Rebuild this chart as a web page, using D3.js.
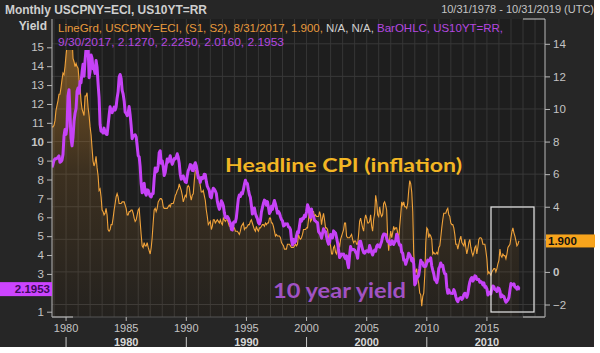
<!DOCTYPE html>
<html>
<head>
<meta charset="utf-8">
<script src="https://cdn.jsdelivr.net/npm/d3@7"></script>
<style>
  body { margin: 0; background: #fff; }
  svg { display: block; font-family: "Liberation Sans", Arial, sans-serif; }
</style>
</head>
<body>
<div id="chart"></div>
<script>
// Monthly values, first month is Oct 1978.
// Headline CPI y/y (right axis), Oct 1978 .. Aug 2017
let cpi = [
  8.9, 8.9, 9.0,
  9.3, 9.9, 10.2, 10.5, 10.9, 10.9, 11.3, 11.8, 12.2, 12.1, 12.6, 13.3,
  13.9, 14.2, 14.8, 14.7, 14.4, 14.4, 13.1, 12.9, 12.6, 12.8, 12.6, 12.5,
  11.8, 11.4, 10.5, 10.0, 9.8, 9.6, 10.8, 10.8, 11.0, 10.1, 9.6, 8.9,
  8.4, 7.6, 6.8, 6.5, 6.7, 7.1, 6.4, 5.9, 5.0, 5.1, 4.6, 3.8,
  3.7, 3.5, 3.6, 3.9, 3.5, 2.6, 2.5, 2.6, 2.9, 2.9, 3.3, 3.8,
  4.2, 4.6, 4.8, 4.6, 4.2, 4.2, 4.2, 4.3, 4.3, 4.3, 4.1, 3.9,
  3.5, 3.5, 3.7, 3.7, 3.8, 3.8, 3.6, 3.3, 3.1, 3.2, 3.5, 3.8,
  3.9, 3.1, 2.3, 1.6, 1.5, 1.8, 1.6, 1.6, 1.8, 1.5, 1.3, 1.1,
  1.5, 2.1, 3.0, 3.8, 3.9, 3.7, 3.9, 4.3, 4.4, 4.5, 4.5, 4.4,
  4.0, 3.9, 3.9, 3.9, 3.9, 4.0, 4.1, 4.0, 4.2, 4.2, 4.2, 4.4,
  4.7, 4.8, 5.0, 5.1, 5.4, 5.2, 5.0, 4.7, 4.3, 4.5, 4.7, 4.6,
  5.2, 5.3, 5.2, 4.7, 4.4, 4.7, 4.8, 5.6, 6.2, 6.3, 6.3, 6.1,
  5.7, 5.3, 4.9, 4.9, 5.0, 4.7, 4.4, 3.8, 3.4, 2.9, 3.0, 3.1,
  2.6, 2.8, 3.2, 3.2, 3.0, 3.1, 3.2, 3.1, 3.0, 3.2, 3.0, 2.9,
  3.3, 3.2, 3.1, 3.2, 3.2, 3.0, 2.8, 2.8, 2.7, 2.8, 2.7, 2.7,
  2.5, 2.5, 2.5, 2.4, 2.3, 2.5, 2.8, 2.9, 3.0, 2.6, 2.7, 2.7,
  2.8, 2.9, 2.9, 3.1, 3.2, 3.0, 2.8, 2.6, 2.5, 2.8, 2.6, 2.5,
  2.7, 2.7, 2.8, 2.9, 2.9, 2.8, 3.0, 2.9, 3.0, 3.0, 3.3, 3.3,
  3.0, 3.0, 2.8, 2.5, 2.2, 2.3, 2.2, 2.2, 2.2, 2.1, 1.8, 1.7,
  1.6, 1.4, 1.4, 1.4, 1.7, 1.7, 1.7, 1.6, 1.5, 1.5, 1.5, 1.6,
  1.7, 1.6, 1.7, 2.3, 2.1, 2.0, 2.1, 2.3, 2.6, 2.6, 2.6, 2.7,
  2.7, 3.2, 3.8, 3.1, 3.2, 3.7, 3.7, 3.4, 3.5, 3.4, 3.4, 3.4,
  3.7, 3.5, 2.9, 3.3, 3.6, 3.2, 2.7, 2.7, 2.6, 2.1, 1.9, 1.6,
  1.1, 1.1, 1.5, 1.6, 1.2, 1.1, 1.5, 1.8, 1.5, 2.0, 2.2, 2.4,
  2.6, 3.0, 3.0, 2.2, 2.1, 2.1, 2.1, 2.2, 2.3, 2.0, 1.8, 1.9,
  1.9, 1.7, 1.7, 2.3, 3.1, 3.3, 3.0, 2.7, 2.5, 3.2, 3.5, 3.3,
  3.0, 3.0, 3.1, 3.5, 2.8, 2.5, 3.2, 3.6, 4.7, 4.3, 3.5, 3.4,
  4.0, 3.6, 3.4, 3.5, 4.2, 4.3, 4.1, 3.8, 2.1, 1.3, 2.0, 2.5,
  2.1, 2.4, 2.8, 2.6, 2.7, 2.7, 2.4, 2.0, 2.8, 3.5, 4.3, 4.1,
  4.3, 4.0, 4.0, 3.9, 4.2, 5.0, 5.6, 5.4, 4.9, 3.7, 1.1, 0.1,
  0.0, 0.2, -0.4, -0.7, -1.3, -1.4, -2.1, -1.5, -1.3, -0.2, 1.8, 2.7,
  2.6, 2.1, 2.3, 2.2, 2.0, 1.1, 1.2, 1.1, 1.1, 1.2, 1.1, 1.5,
  1.6, 2.1, 2.7, 3.2, 3.6, 3.6, 3.6, 3.8, 3.9, 3.5, 3.4, 3.0,
  2.9, 2.9, 2.7, 2.3, 1.7, 1.7, 1.4, 1.7, 2.0, 2.2, 1.8, 1.7,
  1.6, 2.0, 1.5, 1.1, 1.4, 1.8, 2.0, 1.5, 1.2, 1.0, 1.2, 1.5,
  1.6, 1.1, 1.5, 2.0, 2.1, 2.1, 2.0, 1.7, 1.7, 1.7, 1.3, 0.8,
  -0.1, 0.0, -0.1, -0.2, 0.0, 0.1, 0.2, 0.2, 0.0, 0.2, 0.5, 0.7,
  1.4, 1.0, 0.9, 1.1, 1.0, 1.0, 0.8, 1.1, 1.5, 1.6, 1.7, 2.1,
  2.5, 2.7, 2.4, 2.2, 1.9, 1.6, 1.7, 1.9
];

// US 10 year yield (left axis), Oct 1978 .. Sep 2017
let yields = [
  8.64, 8.81, 9.01,
  9.10, 9.10, 9.12, 9.18, 9.25, 8.91, 8.95, 9.03, 9.33, 10.30, 10.65, 10.39,
  10.80, 12.41, 12.75, 11.47, 10.18, 9.78, 10.25, 11.10, 11.51, 11.75, 12.68, 12.84,
  12.57, 13.19, 13.12, 13.68, 14.10, 13.47, 14.28, 14.94, 15.32, 15.15, 13.39, 13.72,
  14.59, 14.43, 13.86, 13.87, 13.62, 14.30, 13.95, 13.06, 12.34, 10.91, 10.55, 10.54,
  10.46, 10.72, 10.51, 10.40, 10.38, 10.85, 11.38, 11.85, 11.65, 11.54, 11.69, 11.83,
  11.67, 11.84, 12.32, 12.63, 13.41, 13.56, 13.36, 12.72, 12.52, 12.16, 11.57, 11.50,
  11.38, 11.51, 11.86, 11.43, 10.85, 10.16, 10.31, 10.33, 10.37, 10.24, 9.78, 9.26,
  9.19, 8.70, 7.78, 7.30, 7.71, 7.80, 7.30, 7.17, 7.45, 7.43, 7.25, 7.11,
  7.08, 7.25, 7.25, 8.02, 8.61, 8.40, 8.45, 8.76, 9.42, 9.52, 8.86, 8.99,
  8.67, 8.21, 8.37, 8.72, 9.09, 8.92, 9.06, 9.26, 8.98, 8.80, 8.96, 9.11,
  9.09, 9.17, 9.36, 9.18, 8.86, 8.28, 8.02, 8.11, 8.19, 8.01, 7.87, 7.84,
  8.21, 8.47, 8.59, 8.79, 8.76, 8.48, 8.47, 8.75, 8.89, 8.72, 8.39, 8.08,
  8.09, 7.85, 8.11, 8.04, 8.07, 8.28, 8.27, 7.90, 7.65, 7.53, 7.42, 7.09,
  7.03, 7.34, 7.54, 7.48, 7.39, 7.26, 6.84, 6.59, 6.42, 6.59, 6.87, 6.77,
  6.60, 6.26, 5.98, 5.97, 6.04, 5.96, 5.81, 5.68, 5.36, 5.33, 5.72, 5.77,
  5.75, 5.97, 6.48, 6.97, 7.18, 7.10, 7.30, 7.24, 7.46, 7.74, 7.96, 7.81,
  7.78, 7.47, 7.20, 7.06, 6.63, 6.17, 6.28, 6.49, 6.20, 6.04, 5.93, 5.71,
  5.65, 5.81, 6.27, 6.51, 6.74, 6.91, 6.87, 6.64, 6.83, 6.53, 6.20, 6.30,
  6.58, 6.42, 6.69, 6.89, 6.71, 6.49, 6.22, 6.30, 6.21, 6.03, 5.88, 5.81,
  5.54, 5.57, 5.65, 5.64, 5.65, 5.50, 5.46, 5.34, 4.81, 4.53, 4.83, 4.65,
  4.72, 5.00, 5.23, 5.18, 5.54, 5.90, 5.79, 5.94, 5.92, 6.11, 6.03, 6.28,
  6.66, 6.52, 6.26, 5.99, 6.44, 6.10, 6.05, 5.83, 5.80, 5.74, 5.72, 5.24,
  5.16, 5.10, 4.89, 5.14, 5.39, 5.28, 5.24, 4.97, 4.73, 4.57, 4.65, 5.09,
  5.04, 4.91, 5.28, 5.21, 5.16, 4.93, 4.65, 4.26, 3.87, 3.94, 4.05, 4.03,
  4.05, 3.90, 3.81, 3.96, 3.57, 3.33, 3.98, 4.45, 4.27, 4.29, 4.30, 4.27,
  4.15, 4.08, 3.83, 4.35, 4.72, 4.73, 4.50, 4.28, 4.13, 4.10, 4.19, 4.23,
  4.22, 4.17, 4.50, 4.34, 4.14, 4.00, 4.18, 4.26, 4.20, 4.46, 4.54, 4.47,
  4.42, 4.57, 4.72, 4.99, 5.11, 5.11, 5.09, 4.88, 4.72, 4.73, 4.60, 4.56,
  4.76, 4.72, 4.56, 4.69, 4.75, 5.10, 5.00, 4.67, 4.52, 4.53, 4.15, 4.10,
  3.74, 3.74, 3.51, 3.68, 3.88, 4.10, 4.01, 3.89, 3.69, 3.81, 3.53, 2.42,
  2.52, 2.87, 2.82, 2.93, 3.29, 3.72, 3.56, 3.59, 3.40, 3.39, 3.40, 3.59,
  3.73, 3.69, 3.73, 3.85, 3.42, 3.20, 3.01, 2.70, 2.65, 2.54, 2.76, 3.29,
  3.39, 3.58, 3.41, 3.46, 3.17, 3.00, 3.00, 2.30, 1.98, 2.15, 2.01, 1.98,
  1.97, 1.97, 2.17, 2.05, 1.80, 1.62, 1.53, 1.68, 1.72, 1.75, 1.65, 1.72,
  1.91, 1.98, 1.96, 1.76, 1.93, 2.30, 2.58, 2.74, 2.81, 2.62, 2.72, 2.90,
  2.86, 2.71, 2.72, 2.71, 2.56, 2.60, 2.54, 2.42, 2.53, 2.30, 2.33, 2.21,
  1.88, 1.98, 2.04, 1.94, 2.20, 2.36, 2.32, 2.17, 2.17, 2.07, 2.26, 2.24,
  2.09, 1.78, 1.89, 1.81, 1.81, 1.64, 1.50, 1.56, 1.63, 1.76, 2.14, 2.49,
  2.43, 2.42, 2.48, 2.30, 2.30, 2.19, 2.32, 2.21, 2.1953
];

let leftTicks = [1, 2, 3, 4, 5, 6, 7, 8, 9, 10, 11, 12, 13, 14, 15];
let rightTicks = [-2, 0, 2, 4, 6, 8, 10, 12, 14];
let yearLabels = [1980, 1985, 1990, 1995, 2000, 2005, 2010, 2015];
let decadeLabels = [1980, 1990, 2000, 2010];

// month index -> last day of that month
function monthEnd(i) {
    return new Date(1978, 9 + i + 1, 0);
}

let width = 600, height = 353;
let plot = { left: 52, right: 545, top: 19, bottom: 317 };

let svg = d3.select("#chart").append("svg")
    .attr("width", width)
    .attr("height", height);

// dark panel
svg.append("rect").attr("width", 594).attr("height", 347).attr("fill", "#262626");
svg.append("rect")
    .attr("x", plot.left).attr("y", plot.top)
    .attr("width", plot.right - plot.left).attr("height", plot.bottom - plot.top)
    .attr("fill", "#1e1e1e");

// scales
let x = d3.scaleTime()
    .domain([new Date(1978, 9, 31), new Date(2019, 9, 31)])
    .range([plot.left, plot.right]);
let yL = d3.scaleLinear().domain([1, 15]).range([311.7, 47.3]);
let yR = d3.scaleLinear().domain([-2, 14]).range([304.5, 43.8]);

// grid
let years = d3.timeYear.range(new Date(1979, 0, 1), new Date(2020, 0, 1));
svg.append("g").selectAll("line")
    .data(years)
    .enter().append("line")
    .attr("x1", d => x(d)).attr("x2", d => x(d))
    .attr("y1", plot.top).attr("y2", plot.bottom)
    .attr("stroke", "#363636").attr("stroke-width", 1);
svg.append("g").selectAll("line")
    .data(rightTicks)
    .enter().append("line")
    .attr("x1", plot.left).attr("x2", plot.right)
    .attr("y1", d => yR(d)).attr("y2", d => yR(d))
    .attr("stroke", "#383838").attr("stroke-width", 1);

// series are clipped under the legend
svg.append("clipPath").attr("id", "clip")
    .append("rect")
    .attr("x", plot.left).attr("y", 50)
    .attr("width", plot.right - plot.left).attr("height", plot.bottom - 50);

let grad = svg.append("defs").append("linearGradient")
    .attr("id", "cpiFill")
    .attr("gradientUnits", "userSpaceOnUse")
    .attr("x1", 0).attr("y1", 50).attr("x2", 0).attr("y2", plot.bottom);
grad.append("stop").attr("offset", "0%").attr("stop-color", "#e8962a").attr("stop-opacity", 0.45);
grad.append("stop").attr("offset", "45%").attr("stop-color", "#e8962a").attr("stop-opacity", 0.15);
grad.append("stop").attr("offset", "100%").attr("stop-color", "#e8962a").attr("stop-opacity", 0.03);

let series = svg.append("g").attr("clip-path", "url(#clip)");

let cpiArea = d3.area()
    .x((d, i) => x(monthEnd(i)))
    .y0(plot.bottom)
    .y1(d => yR(d));
series.append("path")
    .datum(cpi)
    .attr("d", cpiArea)
    .attr("fill", "url(#cpiFill)");

let cpiLine = d3.line()
    .x((d, i) => x(monthEnd(i)))
    .y(d => yR(d));
let yieldLine = d3.line()
    .x((d, i) => x(monthEnd(i)))
    .y(d => yL(d));

series.append("path")
    .datum(cpi)
    .attr("d", cpiLine)
    .attr("fill", "none")
    .attr("stroke", "#f0a23a")
    .attr("stroke-width", 1.1);

series.append("path")
    .datum(yields)
    .attr("d", yieldLine)
    .attr("fill", "none")
    .attr("stroke", "#c642f7")
    .attr("stroke-width", 3)
    .attr("stroke-linejoin", "round");

// frame
svg.append("line").attr("x1", plot.left).attr("x2", plot.left)
    .attr("y1", plot.top).attr("y2", plot.bottom).attr("stroke", "#b8b8b8");
svg.append("line").attr("x1", plot.right).attr("x2", plot.right)
    .attr("y1", plot.top).attr("y2", plot.bottom).attr("stroke", "#b8b8b8");
svg.append("line").attr("x1", plot.left).attr("x2", plot.right)
    .attr("y1", plot.bottom).attr("y2", plot.bottom).attr("stroke", "#555");
[[plot.left, 73, plot.bottom], [523, plot.right, plot.bottom], [523, plot.right, plot.top]].forEach(function (s) {
    svg.append("line").attr("x1", s[0]).attr("x2", s[1])
        .attr("y1", s[2]).attr("y2", s[2]).attr("stroke", "#c8c8c8");
});

// left axis (the "2" sits behind the last-value box)
let leftAxis = svg.append("g")
    .attr("transform", "translate(" + plot.left + ",0)")
    .call(d3.axisLeft(yL).tickValues(leftTicks).tickSize(5).tickPadding(3));
leftAxis.select(".domain").remove();
leftAxis.selectAll("line").attr("stroke", "#b8b8b8");
leftAxis.selectAll("text")
    .attr("fill", "#c4c4c4")
    .style("font-size", "11.5px")
    .style("font-weight", d => d === 10 ? "bold" : "normal")
    .style("display", d => d === 2 ? "none" : null);

// right axis (the "2" sits behind the last-value box)
let rightAxis = svg.append("g")
    .attr("transform", "translate(" + plot.right + ",0)")
    .call(d3.axisRight(yR).tickValues(rightTicks).tickSize(5).tickPadding(3));
rightAxis.select(".domain").remove();
rightAxis.selectAll("line").attr("stroke", "#b8b8b8");
rightAxis.selectAll("text")
    .attr("fill", "#c4c4c4")
    .style("font-size", "11.5px")
    .style("font-weight", d => d === 0 ? "bold" : "normal")
    .style("display", d => d === 2 ? "none" : null);

// bottom axis: years and decades
let bottom = svg.append("g");
bottom.selectAll(".yr")
    .data(yearLabels)
    .enter().append("text")
    .attr("x", d => x(new Date(d, 0, 1)))
    .attr("y", 332)
    .attr("text-anchor", "middle")
    .attr("fill", "#c4c4c4")
    .style("font-size", "11px")
    .text(d => d);
bottom.selectAll(".tk")
    .data(yearLabels)
    .enter().append("line")
    .attr("x1", d => x(new Date(d, 0, 1))).attr("x2", d => x(new Date(d, 0, 1)))
    .attr("y1", plot.bottom).attr("y2", plot.bottom + 4)
    .attr("stroke", "#b8b8b8");
bottom.selectAll(".dec")
    .data(decadeLabels)
    .enter().append("text")
    .attr("x", d => x(new Date(d + 5, 0, 1)))
    .attr("y", 346)
    .attr("text-anchor", "middle")
    .attr("fill", "#d8d8d8")
    .style("font-size", "11px")
    .style("font-weight", "bold")
    .text(d => d);
bottom.selectAll(".dtk")
    .data(decadeLabels)
    .enter().append("line")
    .attr("x1", d => x(new Date(d, 0, 1))).attr("x2", d => x(new Date(d, 0, 1)))
    .attr("y1", 337).attr("y2", 347)
    .attr("stroke", "#c8c8c8");

// header
svg.append("text")
    .attr("x", 5).attr("y", 14)
    .attr("fill", "#cfcfcf")
    .attr("textLength", 202).attr("lengthAdjust", "spacingAndGlyphs")
    .style("font-size", "12px").style("font-weight", "bold")
    .text("Monthly USCPNY=ECI, US10YT=RR");
svg.append("text")
    .attr("x", 594).attr("y", 13)
    .attr("text-anchor", "end")
    .attr("fill", "#c4c4c4")
    .style("font-size", "11px")
    .text("10/31/1978 - 10/31/2019 (UTC)");
svg.append("text")
    .attr("x", 47).attr("y", 30)
    .attr("text-anchor", "end")
    .attr("fill", "#d0d0d0")
    .style("font-size", "12px").style("font-weight", "bold")
    .text("Yield");

// legend
let leg1 = svg.append("text")
    .attr("x", 58).attr("y", 32)
    .attr("textLength", 445).attr("lengthAdjust", "spacingAndGlyphs")
    .style("font-size", "11px");
leg1.append("tspan").attr("fill", "#e89a3c").text("LineGrd, USCPNY=ECI, (S1, S2), 8/31/2017, 1.900, ");
leg1.append("tspan").attr("fill", "#d0d0d0").text("N/A, N/A, ");
leg1.append("tspan").attr("fill", "#b548e0").text("BarOHLC, US10YT=RR,");
svg.append("text")
    .attr("x", 58).attr("y", 46)
    .attr("fill", "#b548e0")
    .attr("textLength", 226).attr("lengthAdjust", "spacingAndGlyphs")
    .style("font-size", "11px")
    .text("9/30/2017, 2.1270, 2.2250, 2.0160, 2.1953");

// last value labels
let lastYield = yields[yields.length - 1];
let lastCpi = cpi[cpi.length - 1];
svg.append("rect")
    .attr("x", 0).attr("y", yL(lastYield) - 7)
    .attr("width", plot.left).attr("height", 14)
    .attr("fill", "#cc44ff");
svg.append("text")
    .attr("x", 50).attr("y", yL(lastYield) + 4)
    .attr("text-anchor", "end")
    .attr("fill", "#3c0a5a")
    .style("font-size", "11.5px").style("font-weight", "bold")
    .text(d3.format(".4f")(lastYield));
svg.append("rect")
    .attr("x", plot.right + 1).attr("y", yR(lastCpi) - 6.5)
    .attr("width", 49).attr("height", 13)
    .attr("fill", "#f7a41c");
svg.append("text")
    .attr("x", plot.right + 3).attr("y", yR(lastCpi) + 4)
    .attr("fill", "#111")
    .style("font-size", "11.5px").style("font-weight", "bold")
    .text(d3.format(".3f")(lastCpi));

// annotations
svg.append("rect")
    .attr("x", 491).attr("y", 207)
    .attr("width", 43).attr("height", 105)
    .attr("fill", "none")
    .attr("stroke", "#e8e8e8").attr("stroke-width", 1.2);
svg.append("text")
    .attr("x", 225).attr("y", 172)
    .attr("fill", "#f3b624")
    .attr("textLength", 237).attr("lengthAdjust", "spacingAndGlyphs")
    .style("font-family", "Lato, 'Open Sans', sans-serif")
    .style("font-size", "19px").style("font-weight", "bold")
    .text("Headline CPI (inflation)");
svg.append("text")
    .attr("x", 273).attr("y", 298)
    .attr("fill", "#a152c4")
    .attr("textLength", 133).attr("lengthAdjust", "spacingAndGlyphs")
    .style("font-family", "Lato, 'Open Sans', sans-serif")
    .style("font-size", "20px").style("font-weight", "bold")
    .text("10 year yield");
</script>
</body>
</html>
